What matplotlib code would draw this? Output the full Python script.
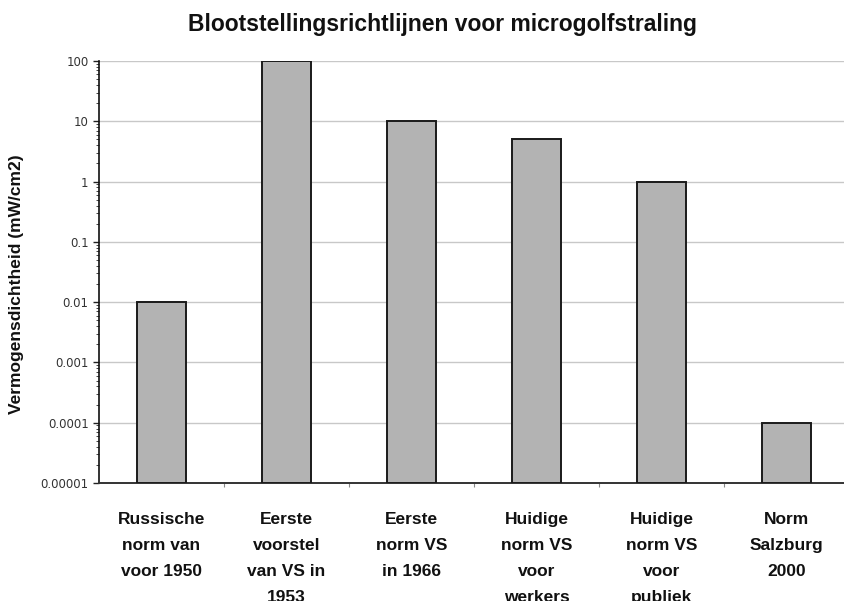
import matplotlib
matplotlib.use('Agg')
import matplotlib.pyplot as plt
from matplotlib.ticker import FixedLocator, LogLocator, NullFormatter

# data
categories = ['Russische\nnorm van\nvoor 1950', 'Eerste\nvoorstel\nvan VS in\n1953',
              'Eerste\nnorm VS\nin 1966', 'Huidige\nnorm VS\nvoor\nwerkers',
              'Huidige\nnorm VS\nvoor\npubliek', 'Norm\nSalzburg\n2000']
values = [0.01, 100, 10, 5, 1, 0.0001]
ytick_vals = [0.00001, 0.0001, 0.001, 0.01, 0.1, 1, 10, 100]
ytick_labels = ['0.00001', '0.0001', '0.001', '0.01', '0.1', '1', '10', '100']

plt.rcParams['font.family'] = ['Liberation Sans', 'DejaVu Sans']

fig = plt.figure(figsize=(8.44, 6.01), dpi=100)
ax = fig.add_axes([99 / 844, 1 - 483 / 601, 745 / 844, 422 / 601])

base = ytick_vals[0]
x = list(range(len(values)))
ax.bar(x, [v - base for v in values], width=0.39, color='#b3b3b3',
       edgecolor='#1a1a1a', linewidth=1.4, bottom=base, zorder=3)

ax.set_yscale('log')
ax.set_ylim(0.00001, 100)
ax.set_xlim(-0.5, 5.46)
ax.set_yticks(ytick_vals)
ax.set_yticklabels(ytick_labels, family=['DejaVu Sans'], fontsize=8.5, color='#333333')
ax.yaxis.set_minor_locator(LogLocator(base=10, subs=range(2, 10), numticks=20))
ax.yaxis.set_minor_formatter(NullFormatter())
ax.tick_params(axis='y', which='major', length=4, width=1, color='#222222')
ax.tick_params(axis='y', which='minor', length=2, width=0.7, color='#444444')
ax.grid(axis='y', which='major', color='#c8c8c8', linewidth=1, zorder=0)

# category labels under the bars, small ticks at boundaries
ax.set_xticks(x)
ax.set_xticklabels(categories, fontsize=12.5, fontweight='bold', color='#111111',
                   linespacing=1.9, va='top')
ax.tick_params(axis='x', which='major', length=0, pad=21)
ax.xaxis.set_minor_locator(FixedLocator([0.5, 1.5, 2.5, 3.5, 4.5]))
ax.tick_params(axis='x', which='minor', length=3, width=0.8, color='#888888')

for s in ['top', 'right']:
    ax.spines[s].set_visible(False)
ax.spines['left'].set_color('#111111')
ax.spines['left'].set_linewidth(1.2)
ax.spines['bottom'].set_color('#333333')
ax.spines['bottom'].set_linewidth(1.4)

ax.set_ylabel('Vermogensdichtheid (mW/cm2)', fontsize=12.5, fontweight='bold',
              color='#111111')
ax.yaxis.set_label_coords(-0.1, 0.47)

fig.text(442 / 844, 1 - 25 / 601, 'Blootstellingsrichtlijnen voor microgolfstraling',
         ha='center', va='center', fontsize=16.5, fontweight='bold', color='#111111')

fig.savefig('out.png', dpi=100)
